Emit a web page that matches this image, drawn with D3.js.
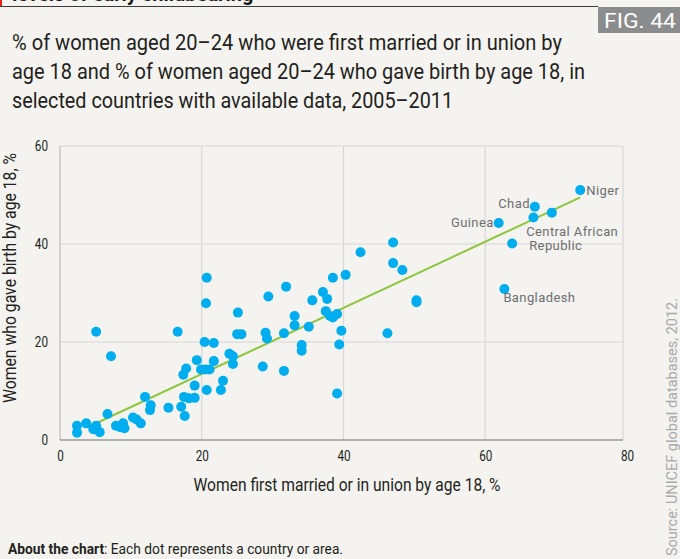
<!DOCTYPE html>
<html>
<head>
<meta charset="utf-8">
<script src="https://cdn.jsdelivr.net/npm/d3@7"></script>
<style>
  html, body { margin: 0; padding: 0; background: #f4f3ef; }
  svg { display: block; }
</style>
</head>
<body>
<svg id="chart" width="680" height="559"></svg>
<script>
// Women aged 20–24: % first married / in union by 18 (x) and % who gave birth by 18 (y)
const marriedBy18 = [
  2.4, 2.4, 3.7, 5.1, 4.7, 5.6, 5.1, 7.2, 6.7, 7.9, 8.5, 8.9, 9.1, 10.3, 10.8, 11.4,
  12.0, 12.8, 12.7, 15.3, 16.6, 17.1, 17.6, 17.4, 17.8, 17.5, 18.2, 19.0, 19.0, 19.3,
  19.9, 20.7, 20.6, 20.4, 21.1, 20.7, 21.7, 21.7, 22.7, 23.0, 23.9, 24.4, 24.4, 25.1,
  25.0, 25.6, 20.5, 29.4, 31.9, 29.0, 29.2, 31.6, 28.6, 31.6, 47.0, 42.4, 47.0, 48.3,
  40.3, 38.5, 37.1, 37.7, 35.6, 50.3, 50.3, 37.5, 38.1, 38.5, 39.1, 33.1, 33.1, 35.1,
  39.7, 46.2, 39.4, 34.1, 34.1, 39.1,
  73.4, 67.0, 66.8, 69.4, 61.9, 63.8, 62.7
];
const birthBy18 = [
  2.9, 1.5, 3.4, 2.9, 2.2, 1.6, 22.1, 17.1, 5.3, 2.9, 2.6, 3.4, 2.4, 4.6, 4.2, 3.4,
  8.8, 7.1, 6.1, 6.6, 22.1, 6.8, 4.9, 13.3, 14.6, 8.8, 8.5, 8.6, 11.1, 16.3,
  14.4, 33.1, 27.9, 20.0, 14.4, 10.2, 19.8, 16.1, 10.2, 12.1, 17.6, 17.1, 15.5, 26.0,
  21.6, 21.6, 14.4, 29.3, 31.3, 21.9, 20.7, 21.8, 15.0, 14.1, 40.3, 38.3, 36.1, 34.7,
  33.7, 33.1, 30.2, 28.8, 28.5, 28.5, 28.1, 26.3, 25.3, 25.0, 25.7, 25.3, 23.4, 23.1,
  22.3, 21.8, 19.5, 19.4, 18.2, 9.5,
  51.0, 47.6, 45.4, 46.4, 44.3, 40.1, 30.8
];
// Named countries (index into the arrays above)
const namedIndex = [78, 79, 82, 83, 84];
const namedCountry = ["Niger", "Chad", "Guinea", "Central African Republic", "Bangladesh"];

// Fitted trend line end points
const trendMarried = [3.9, 73.4];
const trendBirth = [2.6, 49.5];

const xTicks = [0, 20, 40, 60, 80];
const yTicks = [0, 20, 40, 60];

const svg = d3.select("#chart");
const narrow = 'Roboto,"Noto Sans",sans-serif';
const plain = 'Roboto,"Noto Sans",sans-serif';

const x = d3.scaleLinear().domain([0, 80]).range([60, 627]);
const y = d3.scaleLinear().domain([0, 60]).range([440, 146]);
const frameRight = 623;

// Header remnant
svg.append("text").attr("x", 12).attr("y", 1)
  .attr("font-family", plain).attr("font-weight", 700).attr("font-size", 20)
  .attr("fill", "#1a1a1a").text("levels of early childbearing");
svg.append("rect").attr("x", 0).attr("y", 0).attr("width", 2).attr("height", 7).attr("fill", "#e2231a");
svg.append("line").attr("x1", 0).attr("x2", 598).attr("y1", 6.5).attr("y2", 6.5)
  .attr("stroke", "#3a3a3a").attr("stroke-width", 1);

// Figure number tag
svg.append("rect").attr("x", 598).attr("y", 7).attr("width", 82).attr("height", 26).attr("fill", "#8b8c8e");
svg.append("text").attr("x", 604).attr("y", 28)
  .attr("font-family", narrow).attr("font-size", 21).attr("fill", "#ffffff")
  .attr("textLength", 72).attr("lengthAdjust", "spacingAndGlyphs").text("FIG. 44");

// Subtitle
const subtitle = [
  "% of women aged 20–24 who were first married or in union by",
  "age 18 and % of women aged 20–24 who gave birth by age 18, in",
  "selected countries with available data, 2005–2011"
];
const subtitleWidth = [550, 573, 441];
svg.append("g").selectAll("text").data(subtitle).join("text")
  .attr("x", 12).attr("y", (d, i) => 50 + i * 29)
  .attr("font-family", narrow).attr("font-size", 21.5).attr("fill", "#231f20")
  .attr("textLength", (d, i) => subtitleWidth[i]).attr("lengthAdjust", "spacingAndGlyphs")
  .text(d => d);

// Grid
const grid = svg.append("g");
grid.selectAll("line.gx").data(xTicks.filter(t => t > 0 && x(t) < frameRight)).join("line")
  .attr("x1", d => x(d)).attr("x2", d => x(d)).attr("y1", y(60)).attr("y2", y(0))
  .attr("stroke", "#d8d8d8").attr("stroke-width", 1.2);
grid.selectAll("line.gy").data(yTicks.filter(t => t > 0)).join("line")
  .attr("x1", x(0)).attr("x2", frameRight).attr("y1", d => y(d)).attr("y2", d => y(d))
  .attr("stroke", "#d8d8d8").attr("stroke-width", 1.2);
grid.append("line").attr("x1", frameRight).attr("x2", frameRight).attr("y1", y(60)).attr("y2", y(0))
  .attr("stroke", "#d8d8d8").attr("stroke-width", 1.2);
grid.append("line").attr("x1", x(0)).attr("x2", x(0)).attr("y1", y(60)).attr("y2", y(0))
  .attr("stroke", "#c4c4c4").attr("stroke-width", 1.4);
grid.append("line").attr("x1", x(0)).attr("x2", frameRight).attr("y1", y(0)).attr("y2", y(0))
  .attr("stroke", "#9b9b9b").attr("stroke-width", 1.4);

// Axes (labels only)
const xAxis = svg.append("g").attr("transform", `translate(0,${y(0)})`)
  .call(d3.axisBottom(x).tickValues(xTicks).tickSize(0).tickPadding(10).tickFormat(d3.format("d")));
const yAxis = svg.append("g").attr("transform", `translate(${x(0)},0)`)
  .call(d3.axisLeft(y).tickValues(yTicks).tickSize(0).tickPadding(12).tickFormat(d3.format("d")));
[xAxis, yAxis].forEach(a => {
  a.select(".domain").remove();
  a.selectAll("text").attr("font-family", narrow).attr("font-size", 15.5).attr("fill", "#231f20")
    .attr("textLength", function () { return this.textContent.length * 6.6; })
    .attr("lengthAdjust", "spacingAndGlyphs");
});

// Axis titles
svg.append("text").attr("x", 347).attr("y", 491).attr("text-anchor", "middle")
  .attr("font-family", narrow).attr("font-size", 18.5).attr("fill", "#231f20")
  .attr("textLength", 307).attr("lengthAdjust", "spacingAndGlyphs")
  .text("Women first married or in union by age 18, %");
svg.append("text").attr("transform", "translate(16,278) rotate(-90)").attr("text-anchor", "middle")
  .attr("font-family", narrow).attr("font-size", 18).attr("fill", "#231f20")
  .attr("textLength", 250).attr("lengthAdjust", "spacingAndGlyphs")
  .text("Women who gave birth by age 18, %");

// Trend line
svg.append("path")
  .datum(trendMarried.map((m, i) => [m, trendBirth[i]]))
  .attr("d", d3.line().x(d => x(d[0])).y(d => y(d[1])))
  .attr("fill", "none").attr("stroke", "#8dc63f").attr("stroke-width", 2);

// Dots
const points = marriedBy18.map((m, i) => ({ m, b: birthBy18[i] }));
svg.append("g").selectAll("circle").data(points).join("circle")
  .attr("cx", d => x(d.m)).attr("cy", d => y(d.b)).attr("r", 5)
  .attr("fill", "#00aeef");

// Country labels
const labelPlacement = {
  "Niger": [{ dx: 6, dy: 5, anchor: "start" }],
  "Chad": [{ dx: -5, dy: 1, anchor: "end" }],
  "Guinea": [{ dx: -5, dy: 4, anchor: "end" }],
  "Central African Republic": [{ dx: 14, dy: -8, anchor: "start", t: "Central African" },
                               { dx: 17, dy: 6, anchor: "start", t: "Republic" }],
  "Bangladesh": [{ dx: -1, dy: 13, anchor: "start" }]
};
const labels = svg.append("g");
namedCountry.forEach((name, k) => {
  const i = namedIndex[k];
  labelPlacement[name].forEach(p => {
    labels.append("text")
      .attr("x", x(marriedBy18[i]) + p.dx).attr("y", y(birthBy18[i]) + p.dy)
      .attr("text-anchor", p.anchor)
      .attr("font-family", plain).attr("font-size", 13).attr("fill", "#6d6e71")
      .attr("letter-spacing", 0.4)
      .text(p.t || name);
  });
});

// Footnote and source
const about = svg.append("text").attr("x", 8).attr("y", 554)
  .attr("font-family", narrow).attr("font-size", 15).attr("fill", "#231f20")
  .attr("textLength", 335).attr("lengthAdjust", "spacingAndGlyphs");
about.append("tspan").attr("font-weight", 700).text("About the chart");
about.append("tspan").text(": Each dot represents a country or area.");

svg.append("text").attr("transform", "translate(677,556) rotate(-90)")
  .attr("font-family", plain).attr("font-size", 14).attr("fill", "#a7a9ac")
  .attr("textLength", 258).attr("lengthAdjust", "spacingAndGlyphs")
  .text("Source: UNICEF global databases, 2012.");
</script>
</body>
</html>
